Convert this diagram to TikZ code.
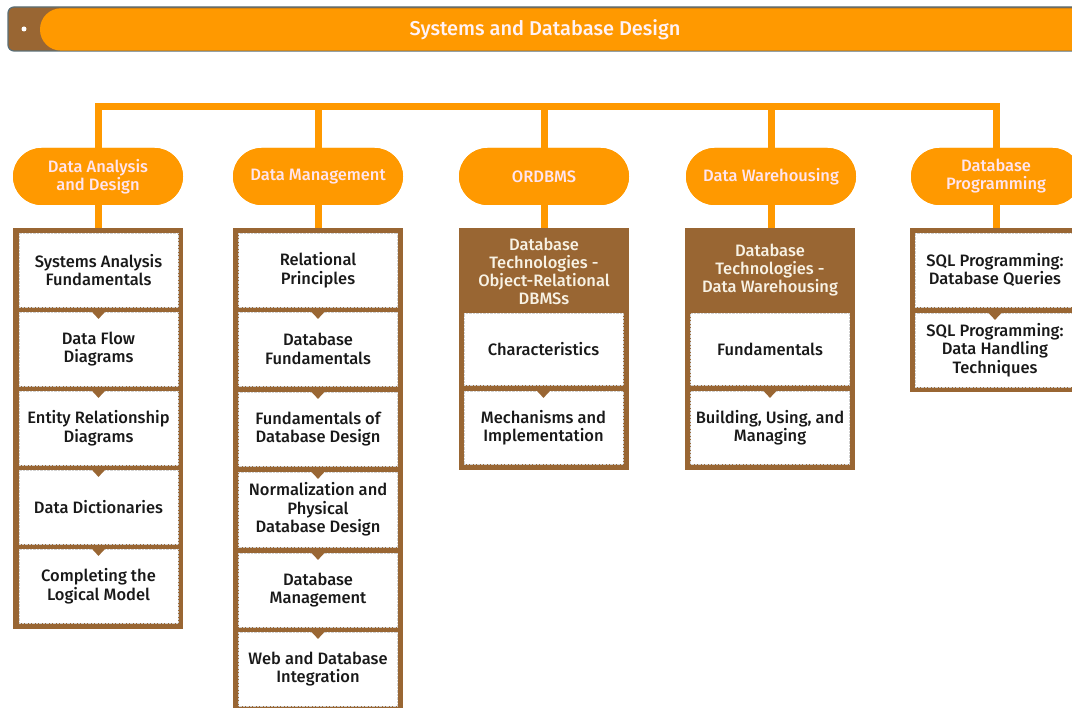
\documentclass[tikz,border=0pt]{standalone}
\usepackage{fontspec}
\setmainfont{Fira Sans}[UprightFont={* Medium}, BoldFont={* SemiBold}]
\usetikzlibrary{shapes.misc}
\definecolor{dborange}{RGB}{255,153,0}
\definecolor{dbbrown}{RGB}{153,102,51}
\definecolor{barline}{RGB}{90,110,118}
\definecolor{titletext}{RGB}{255,242,246}
\definecolor{pilltext}{RGB}{255,228,238}
\definecolor{hdrtext}{RGB}{248,242,228}
\definecolor{celltext}{RGB}{25,25,25}
\begin{document}
\begin{tikzpicture}[x=1pt,y=-1pt,
  every node/.style={inner sep=0pt, outer sep=0pt},
  conn/.style={draw=dborange, line width=7pt},
  pill/.style={rounded rectangle, fill=dborange, minimum width=170pt, minimum height=57pt,
    text=pilltext, align=center, font=\fontsize{16.5}{18}\selectfont},
  frame/.style={fill=dbbrown, minimum width=170pt, anchor=north},
  cell/.style={fill=white, draw=gray!35, densely dotted, line width=0.4pt,
    minimum width=159pt, minimum height=74pt, anchor=north, align=center,
    text=celltext, font=\fontsize{16.5}{18.5}\selectfont},
  hdr/.style={align=center, text=hdrtext, font=\fontsize{16.5}{18}\selectfont},
  notch/.style={fill=dbbrown}]
\useasboundingbox (0,0) rectangle (1072,708);
\clip (0,0) rectangle (1072,708);

% title bar
\node[draw=barline, fill=dbbrown, line width=1.2pt, rounded corners=6pt,
  minimum width=1080pt, minimum height=44pt, anchor=north west] (bar) at (8,7) {};
\fill[dborange, rounded corners=21pt] (40,8.3) rectangle (1110,50.6);
\fill[white] (24,29) circle (2.5);
\node[text=titletext, font=\fontsize{20}{22}\selectfont] (title) at (545,30) {Systems and Database Design};

% pills
\coordinate (hub) at (0,107);
\node[pill] (p1) at (98,176.5) {Data Analysis\\and Design};
\node[pill] (p2) at (318,176.5) {Data Management};
\node[pill] (p3) at (544,176.5) {ORDBMS};
\node[pill] (p4) at (771,176.5) {Data Warehousing};
\node[pill] (p5) at (996,176.5) {Database\\Programming};

% frames
\node[frame, minimum height=401pt] (f1) at (98,228) {};
\node[frame, minimum height=490pt] (f2) at (318,228) {};
\node[frame, minimum height=242pt] (f3) at (544,228) {};
\node[frame, minimum height=242pt] (f4) at (770,228) {};
\node[frame, minimum height=164pt] (f5) at (995,228) {};

% connectors
\draw[conn] (p1.north) -- (p1.north |- hub) -- (p5.north |- hub) -- (p5.north);
\foreach \i in {2,3,4} { \draw[conn] (p\i.north) -- (p\i.north |- hub); }
\foreach \i in {1,2,3,4,5} { \draw[conn] (p\i.south) -- (p\i.south |- f\i.north); }
% redraw pills on top of connectors
\node[pill] at (p1) {Data Analysis\\and Design};
\node[pill] at (p2) {Data Management};
\node[pill] at (p3) {ORDBMS};
\node[pill] at (p4) {Data Warehousing};
\node[pill] at (p5) {Database\\Programming};

% column 1
\node[cell] (a1) at (98.5,233) {Systems Analysis\\Fundamentals};
\node[cell] (a2) at (98.5,312) {Data Flow\\Diagrams};
\node[cell] (a3) at (98.5,391) {Entity Relationship\\Diagrams};
\node[cell] (a4) at (98.5,470) {Data Dictionaries};
\node[cell] (a5) at (98.5,549) {Completing the\\Logical Model};

% column 2
\node[cell] (b1) at (318,233) {Relational\\Principles};
\node[cell] (b2) at (318,312) {Database\\Fundamentals};
\node[cell] (b3) at (318,392) {Fundamentals of\\Database Design};
\node[cell, minimum height=75pt] (b4) at (318,472) {Normalization and\\Physical\\Database Design};
\node[cell] (b5) at (318,553) {Database\\Management};
\node[cell] (b6) at (318,632) {Web and Database\\Integration};

% column 3
\node[hdr] (h3) at (544,271) {Database\\Technologies -\\Object-Relational\\DBMSs};
\node[cell, minimum height=72pt] (c1) at (543.5,313) {Characteristics};
\node[cell, minimum height=73pt] (c2) at (543.5,391) {Mechanisms and\\Implementation};

% column 4
\node[hdr] (h4) at (770,270) {Database\\Technologies -\\Data Warehousing};
\node[cell, minimum height=72pt] (d1) at (770,313) {Fundamentals};
\node[cell, minimum height=73pt] (d2) at (770,391) {Building, Using, and\\Managing};

% column 5
\node[cell, minimum width=160pt] (e1) at (995,233) {SQL Programming:\\Database Queries};
\node[cell, minimum width=160pt] (e2) at (995,313) {SQL Programming:\\Data Handling\\Techniques};

% notches
\foreach \n in {a2,a3,a4,a5,b2,b3,b4,b5,b6,c2,d2,e2} {
  \fill[notch] (\n.north) ++(-7,-0.6) -- ++(14,0) -- ++(-7,7.5) -- cycle;
}
\end{tikzpicture}
\end{document}
